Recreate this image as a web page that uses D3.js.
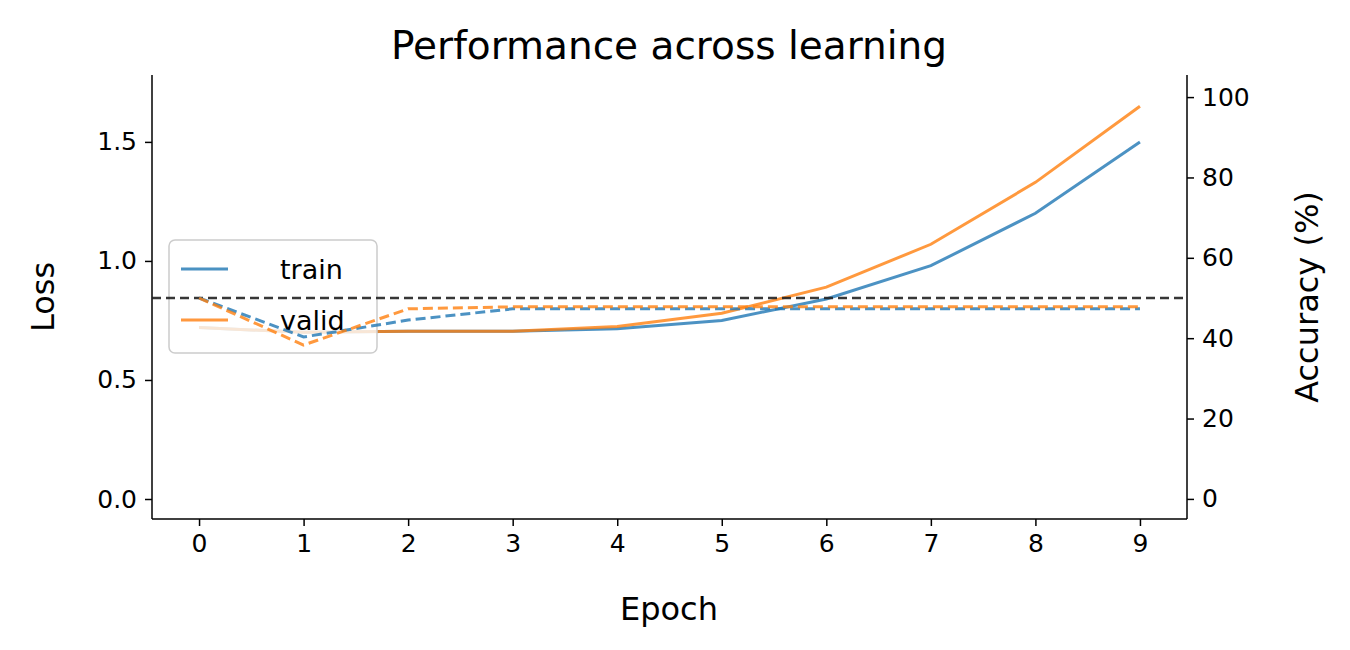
<!DOCTYPE html><html><head><script src="https://cdn.jsdelivr.net/npm/d3@7"></script>
<style>body{margin:0;background:#fff}text{font-family:"DejaVu Sans",sans-serif}</style></head><body>
<svg id="c" width="1350" height="650"></svg>
<script>
const epochs=[0,1,2,3,4,5,6,7,8,9];
const trainLoss=[0.72,0.70,0.705,0.705,0.715,0.75,0.84,0.98,1.20,1.50];
const validLoss=[0.72,0.70,0.705,0.705,0.725,0.78,0.89,1.07,1.33,1.65];
const trainAcc=[50,40.3,44.5,47.3,47.3,47.3,47.3,47.3,47.3,47.3];
const validAcc=[50,38.3,47.3,47.8,47.8,47.8,47.8,47.8,47.8,47.8];
const lossTicks=[0,0.5,1.0,1.5], accTicks=[0,20,40,60,80,100];
const svg=d3.select("#c");
const L=152,R=1187,T=75,B=519;
const x=d3.scaleLinear().domain([-0.45,9.45]).range([L,R]);
const yL=d3.scaleLinear().domain([-0.084,1.781]).range([B,T]);
const yA=d3.scaleLinear().domain([-5,105]).range([519,77]);
const fs="25px";
const ax=svg.append("g").attr("transform",`translate(0,${B})`).call(d3.axisBottom(x).tickValues(epochs).tickSize(7).tickPadding(8));
const ay=svg.append("g").attr("transform",`translate(${L},0)`).call(d3.axisLeft(yL).tickValues(lossTicks).tickFormat(d3.format(".1f")).tickSize(7).tickPadding(8));
const ar=svg.append("g").attr("transform",`translate(${R},0)`).call(d3.axisRight(yA).tickValues(accTicks).tickSize(7).tickPadding(8));
[ax,ay,ar].forEach(g=>{g.attr("font-size",null).attr("font-family",null);g.selectAll("text").style("font-size",fs).attr("fill","#000");g.selectAll("line,path").attr("stroke","#000").attr("stroke-width",1.5);});
ax.select(".domain").attr("d",`M${L},0H${R}`);
ay.select(".domain").attr("d",`M0,${T}V${B}`);
ar.select(".domain").attr("d",`M0,${T}V${B}`);
const blue="#1f77b4",orange="#ff7f0e";
const lnL=d3.line().x((d,i)=>x(epochs[i])).y(d=>yL(d));
const lnA=d3.line().x((d,i)=>x(epochs[i])).y(d=>yA(d));
[[trainLoss,blue],[validLoss,orange]].forEach(([d,c])=>svg.append("path").attr("d",lnL(d)).attr("fill","none").attr("stroke",c).attr("stroke-width",3).attr("opacity",0.8));
const lg=svg.append("g");
lg.append("rect").attr("x",169).attr("y",240).attr("width",208).attr("height",113).attr("rx",6).attr("fill","#fff").attr("fill-opacity",0.8).attr("stroke","#ccc").attr("stroke-width",1.5);
[["train",blue,269],["valid",orange,320]].forEach(([t,c,y])=>{
lg.append("line").attr("x1",181).attr("x2",228).attr("y1",y).attr("y2",y).attr("stroke",c).attr("stroke-width",3).attr("opacity",0.8);
lg.append("text").attr("x",280).attr("y",y+10).text(t).style("font-size","27px");});
svg.append("line").attr("x1",L).attr("x2",R).attr("y1",yA(50)).attr("y2",yA(50)).attr("stroke","#222").attr("stroke-width",2.5).attr("stroke-dasharray","9,5").attr("opacity",0.9);
[[trainAcc,blue],[validAcc,orange]].forEach(([d,c])=>svg.append("path").attr("d",lnA(d)).attr("fill","none").attr("stroke",c).attr("stroke-width",3).attr("stroke-dasharray","10,5").attr("opacity",0.8));
svg.append("text").attr("x",669).attr("y",59).attr("text-anchor","middle").text("Performance across learning").style("font-size","39px");
svg.append("text").attr("x",669).attr("y",620).attr("text-anchor","middle").text("Epoch").style("font-size","32px");
svg.append("text").attr("transform","translate(54,297)rotate(-90)").attr("text-anchor","middle").text("Loss").style("font-size","32px");
svg.append("text").attr("transform","translate(1318,297)rotate(-90)").attr("text-anchor","middle").text("Accuracy (%)").style("font-size","32px");
</script></body></html>
